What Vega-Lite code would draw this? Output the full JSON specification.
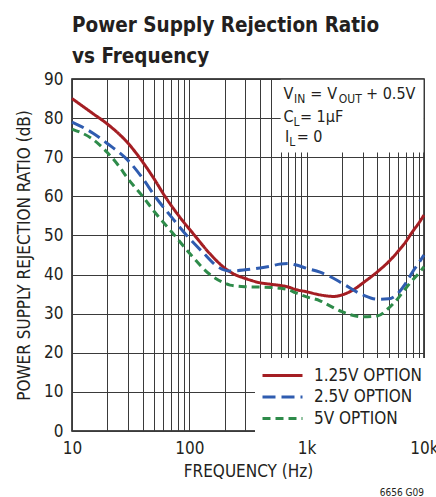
{
  "$schema": "https://vega.github.io/schema/vega-lite/v6.json",
  "width": 352,
  "height": 352,
  "autosize": {"type": "none"},
  "padding": {"left": 72, "top": 79, "right": 12, "bottom": 66},
  "background": "white",
  "config": {
    "font": "DejaVu Sans Condensed, DejaVu Sans, sans-serif",
    "view": {"stroke": "#111", "strokeWidth": 1.5},
    "axis": {"labelColor": "#231f20", "titleColor": "#231f20", "labelFontSize": 17, "titleFontSize": 17, "titleFontWeight": "normal", "ticks": false, "domain": false, "gridColor": "#3a3a3a", "gridOpacity": 1, "gridWidth": 1, "labelOverlap": false},
    "axisY": {"tickCount": 10}
  },
  "title": {
    "text": ["Power Supply Rejection Ratio", "vs Frequency"],
    "anchor": "start",
    "frame": "group",
    "fontSize": 20.5,
    "fontWeight": "bold",
    "lineHeight": 31,
    "offset": 3,
    "color": "#231f20"
  },
  "layer": [
    {
      "data": {"values": [{}]},
      "mark": {"type": "rect", "fill": "white", "stroke": null},
      "encoding": {
        "x": {
          "datum": 600,
          "type": "quantitative",
          "scale": {"type": "log", "domain": [10, 10000], "nice": false},
          "axis": {
            "title": "FREQUENCY (Hz)",
            "values": [10, 20, 30, 40, 50, 60, 70, 80, 90, 100, 200, 300, 400, 500, 600, 700, 800, 900, 1000, 2000, 3000, 4000, 5000, 6000, 7000, 8000, 9000, 10000],
            "labelExpr": "datum.value == 10 ? '10' : datum.value == 100 ? '100' : datum.value == 1000 ? '1k' : datum.value == 10000 ? '10k' : ''",
            "labelPadding": 9,
            "titlePadding": 7,
            "grid": true,
            "labelFlush": false,
            "labelOverlap": false
          }
        },
        "x2": {"datum": 9900},
        "y": {
          "datum": 71.2,
          "type": "quantitative",
          "scale": {"domain": [0, 90], "nice": false},
          "axis": {
            "title": "POWER SUPPLY REJECTION RATIO (dB)",
            "values": [0, 10, 20, 30, 40, 50, 60, 70, 80, 90],
            "tickCount": 10,
            "labelPadding": 9,
            "titlePadding": 10,
            "grid": true,
            "labelOverlap": false
          }
        },
        "y2": {"datum": 89.8}
      }
    },
    {
      "data": {
        "values": [
          {"f": 10, "db": 85, "s": "1.25V OPTION"},
          {"f": 15, "db": 81.2, "s": "1.25V OPTION"},
          {"f": 20, "db": 78.5, "s": "1.25V OPTION"},
          {"f": 30, "db": 73.6, "s": "1.25V OPTION"},
          {"f": 40, "db": 68.8, "s": "1.25V OPTION"},
          {"f": 50, "db": 64.5, "s": "1.25V OPTION"},
          {"f": 62, "db": 60, "s": "1.25V OPTION"},
          {"f": 80, "db": 55.3, "s": "1.25V OPTION"},
          {"f": 111, "db": 50, "s": "1.25V OPTION"},
          {"f": 150, "db": 45.3, "s": "1.25V OPTION"},
          {"f": 194, "db": 42, "s": "1.25V OPTION"},
          {"f": 222, "db": 40.7, "s": "1.25V OPTION"},
          {"f": 253, "db": 39.8, "s": "1.25V OPTION"},
          {"f": 300, "db": 39, "s": "1.25V OPTION"},
          {"f": 400, "db": 37.9, "s": "1.25V OPTION"},
          {"f": 500, "db": 37.5, "s": "1.25V OPTION"},
          {"f": 600, "db": 37.2, "s": "1.25V OPTION"},
          {"f": 700, "db": 36.8, "s": "1.25V OPTION"},
          {"f": 800, "db": 36.2, "s": "1.25V OPTION"},
          {"f": 1000, "db": 35.6, "s": "1.25V OPTION"},
          {"f": 1300, "db": 34.8, "s": "1.25V OPTION"},
          {"f": 1700, "db": 34.4, "s": "1.25V OPTION"},
          {"f": 2000, "db": 34.8, "s": "1.25V OPTION"},
          {"f": 2500, "db": 36.1, "s": "1.25V OPTION"},
          {"f": 3000, "db": 37.8, "s": "1.25V OPTION"},
          {"f": 4000, "db": 40.7, "s": "1.25V OPTION"},
          {"f": 5000, "db": 43.3, "s": "1.25V OPTION"},
          {"f": 6000, "db": 45.9, "s": "1.25V OPTION"},
          {"f": 7000, "db": 48.4, "s": "1.25V OPTION"},
          {"f": 8000, "db": 51, "s": "1.25V OPTION"},
          {"f": 9000, "db": 53.1, "s": "1.25V OPTION"},
          {"f": 10000, "db": 55.2, "s": "1.25V OPTION"},

          {"f": 10, "db": 79, "s": "2.5V OPTION"},
          {"f": 15, "db": 76.2, "s": "2.5V OPTION"},
          {"f": 20, "db": 73.5, "s": "2.5V OPTION"},
          {"f": 30, "db": 69.2, "s": "2.5V OPTION"},
          {"f": 40, "db": 64.6, "s": "2.5V OPTION"},
          {"f": 51, "db": 60, "s": "2.5V OPTION"},
          {"f": 70, "db": 54.8, "s": "2.5V OPTION"},
          {"f": 95, "db": 50, "s": "2.5V OPTION"},
          {"f": 130, "db": 45.7, "s": "2.5V OPTION"},
          {"f": 171, "db": 42.2, "s": "2.5V OPTION"},
          {"f": 222, "db": 40.9, "s": "2.5V OPTION"},
          {"f": 300, "db": 41.2, "s": "2.5V OPTION"},
          {"f": 400, "db": 41.7, "s": "2.5V OPTION"},
          {"f": 500, "db": 42.2, "s": "2.5V OPTION"},
          {"f": 600, "db": 42.7, "s": "2.5V OPTION"},
          {"f": 700, "db": 42.8, "s": "2.5V OPTION"},
          {"f": 800, "db": 42.5, "s": "2.5V OPTION"},
          {"f": 1000, "db": 41.6, "s": "2.5V OPTION"},
          {"f": 1300, "db": 40.6, "s": "2.5V OPTION"},
          {"f": 1580, "db": 39.5, "s": "2.5V OPTION"},
          {"f": 2000, "db": 37.8, "s": "2.5V OPTION"},
          {"f": 3000, "db": 34.8, "s": "2.5V OPTION"},
          {"f": 4000, "db": 33.7, "s": "2.5V OPTION"},
          {"f": 5000, "db": 33.8, "s": "2.5V OPTION"},
          {"f": 6000, "db": 35.2, "s": "2.5V OPTION"},
          {"f": 7000, "db": 37.8, "s": "2.5V OPTION"},
          {"f": 8000, "db": 40.7, "s": "2.5V OPTION"},
          {"f": 9000, "db": 42.9, "s": "2.5V OPTION"},
          {"f": 10000, "db": 45, "s": "2.5V OPTION"},

          {"f": 10, "db": 77.2, "s": "5V OPTION"},
          {"f": 15, "db": 74.6, "s": "5V OPTION"},
          {"f": 20, "db": 71.2, "s": "5V OPTION"},
          {"f": 25, "db": 67.8, "s": "5V OPTION"},
          {"f": 30, "db": 64.5, "s": "5V OPTION"},
          {"f": 40, "db": 60, "s": "5V OPTION"},
          {"f": 50, "db": 56.2, "s": "5V OPTION"},
          {"f": 75, "db": 50, "s": "5V OPTION"},
          {"f": 100, "db": 45.5, "s": "5V OPTION"},
          {"f": 150, "db": 40, "s": "5V OPTION"},
          {"f": 200, "db": 37.8, "s": "5V OPTION"},
          {"f": 222, "db": 37.3, "s": "5V OPTION"},
          {"f": 300, "db": 36.9, "s": "5V OPTION"},
          {"f": 400, "db": 36.8, "s": "5V OPTION"},
          {"f": 500, "db": 36.7, "s": "5V OPTION"},
          {"f": 600, "db": 36.5, "s": "5V OPTION"},
          {"f": 700, "db": 36.1, "s": "5V OPTION"},
          {"f": 800, "db": 35.4, "s": "5V OPTION"},
          {"f": 1000, "db": 34.3, "s": "5V OPTION"},
          {"f": 1300, "db": 33.3, "s": "5V OPTION"},
          {"f": 1580, "db": 32, "s": "5V OPTION"},
          {"f": 2000, "db": 30.5, "s": "5V OPTION"},
          {"f": 3000, "db": 29.2, "s": "5V OPTION"},
          {"f": 4000, "db": 29.4, "s": "5V OPTION"},
          {"f": 5000, "db": 31.4, "s": "5V OPTION"},
          {"f": 6000, "db": 33.9, "s": "5V OPTION"},
          {"f": 7000, "db": 36.5, "s": "5V OPTION"},
          {"f": 8000, "db": 38.6, "s": "5V OPTION"},
          {"f": 9000, "db": 40.3, "s": "5V OPTION"},
          {"f": 10000, "db": 42, "s": "5V OPTION"}
        ]
      },
      "mark": {"type": "line", "strokeWidth": 3, "interpolate": "monotone"},
      "encoding": {
        "x": {
          "field": "f",
          "type": "quantitative",
          "scale": {"type": "log", "domain": [10, 10000], "nice": false},
          "axis": {
            "title": "FREQUENCY (Hz)",
            "values": [10, 20, 30, 40, 50, 60, 70, 80, 90, 100, 200, 300, 400, 500, 600, 700, 800, 900, 1000, 2000, 3000, 4000, 5000, 6000, 7000, 8000, 9000, 10000],
            "labelExpr": "datum.value == 10 ? '10' : datum.value == 100 ? '100' : datum.value == 1000 ? '1k' : datum.value == 10000 ? '10k' : ''",
            "labelPadding": 9,
            "titlePadding": 7,
            "grid": true,
            "labelFlush": false,
            "labelOverlap": false
          }
        },
        "y": {
          "field": "db",
          "type": "quantitative",
          "scale": {"domain": [0, 90], "nice": false},
          "axis": {
            "title": "POWER SUPPLY REJECTION RATIO (dB)",
            "values": [0, 10, 20, 30, 40, 50, 60, 70, 80, 90],
            "tickCount": 10,
            "labelPadding": 9,
            "titlePadding": 10,
            "grid": true,
            "labelOverlap": false
          }
        },
        "color": {
          "field": "s",
          "type": "nominal",
          "scale": {"domain": ["1.25V OPTION", "2.5V OPTION", "5V OPTION"], "range": ["#a41e23", "#2f5cb0", "#2e8b4a"]},
          "legend": {
            "orient": "none",
            "legendX": 183,
            "legendY": 279,
            "title": null,
            "fillColor": "white",
            "padding": 6,
            "labelFontSize": 17,
            "labelColor": "#231f20",
            "labelOffset": 30,
            "symbolType": "M-1,0H3",
            "symbolSize": 400,
            "symbolStrokeWidth": 3,
            "rowPadding": 1.5
          }
        },
        "strokeDash": {
          "field": "s",
          "type": "nominal",
          "scale": {"domain": ["1.25V OPTION", "2.5V OPTION", "5V OPTION"], "range": [[1, 0], [13, 6], [8, 5]]},
          "legend": null
        }
      }
    },
    {
      "data": {"values": [{}]},
      "mark": {"type": "text", "text": "V", "fontSize": 16, "align": "left", "baseline": "alphabetic", "color": "#231f20"},
      "encoding": {"x": {"datum": 634, "type": "quantitative"}, "y": {"datum": 84.8, "type": "quantitative"}}
    },
    {
      "data": {"values": [{}]},
      "mark": {"type": "text", "text": "IN", "fontSize": 12, "align": "left", "baseline": "alphabetic", "color": "#231f20"},
      "encoding": {"x": {"datum": 780, "type": "quantitative"}, "y": {"datum": 83.8, "type": "quantitative"}}
    },
    {
      "data": {"values": [{}]},
      "mark": {"type": "text", "text": "=", "fontSize": 16, "align": "left", "baseline": "alphabetic", "color": "#231f20"},
      "encoding": {"x": {"datum": 1075, "type": "quantitative"}, "y": {"datum": 84.8, "type": "quantitative"}}
    },
    {
      "data": {"values": [{}]},
      "mark": {"type": "text", "text": "V", "fontSize": 16, "align": "left", "baseline": "alphabetic", "color": "#231f20"},
      "encoding": {"x": {"datum": 1500, "type": "quantitative"}, "y": {"datum": 84.8, "type": "quantitative"}}
    },
    {
      "data": {"values": [{}]},
      "mark": {"type": "text", "text": "OUT", "fontSize": 12, "align": "left", "baseline": "alphabetic", "color": "#231f20"},
      "encoding": {"x": {"datum": 1880, "type": "quantitative"}, "y": {"datum": 83.8, "type": "quantitative"}}
    },
    {
      "data": {"values": [{}]},
      "mark": {"type": "text", "text": "+ 0.5V", "fontSize": 16, "align": "left", "baseline": "alphabetic", "color": "#231f20"},
      "encoding": {"x": {"datum": 3206, "type": "quantitative"}, "y": {"datum": 84.8, "type": "quantitative"}}
    },
    {
      "data": {"values": [{}]},
      "mark": {"type": "text", "text": "C", "fontSize": 16, "align": "left", "baseline": "alphabetic", "color": "#231f20"},
      "encoding": {"x": {"datum": 634, "type": "quantitative"}, "y": {"datum": 79.1, "type": "quantitative"}}
    },
    {
      "data": {"values": [{}]},
      "mark": {"type": "text", "text": "L", "fontSize": 12, "align": "left", "baseline": "alphabetic", "color": "#231f20"},
      "encoding": {"x": {"datum": 771, "type": "quantitative"}, "y": {"datum": 78, "type": "quantitative"}}
    },
    {
      "data": {"values": [{}]},
      "mark": {"type": "text", "text": "= 1µF", "fontSize": 16, "align": "left", "baseline": "alphabetic", "color": "#231f20"},
      "encoding": {"x": {"datum": 877, "type": "quantitative"}, "y": {"datum": 79.1, "type": "quantitative"}}
    },
    {
      "data": {"values": [{}]},
      "mark": {"type": "text", "text": "I", "fontSize": 16, "align": "left", "baseline": "alphabetic", "color": "#231f20"},
      "encoding": {"x": {"datum": 653, "type": "quantitative"}, "y": {"datum": 74, "type": "quantitative"}}
    },
    {
      "data": {"values": [{}]},
      "mark": {"type": "text", "text": "L", "fontSize": 12, "align": "left", "baseline": "alphabetic", "color": "#231f20"},
      "encoding": {"x": {"datum": 709, "type": "quantitative"}, "y": {"datum": 72.9, "type": "quantitative"}}
    },
    {
      "data": {"values": [{}]},
      "mark": {"type": "text", "text": "= 0", "fontSize": 16, "align": "left", "baseline": "alphabetic", "color": "#231f20"},
      "encoding": {"x": {"datum": 822, "type": "quantitative"}, "y": {"datum": 74, "type": "quantitative"}}
    },
    {
      "data": {"values": [{}]},
      "mark": {"type": "text", "text": "6656 G09", "fontSize": 10, "align": "right", "baseline": "alphabetic", "color": "#231f20"},
      "encoding": {"x": {"datum": 10000, "type": "quantitative"}, "y": {"datum": -16.6, "type": "quantitative"}}
    }
  ]
}
